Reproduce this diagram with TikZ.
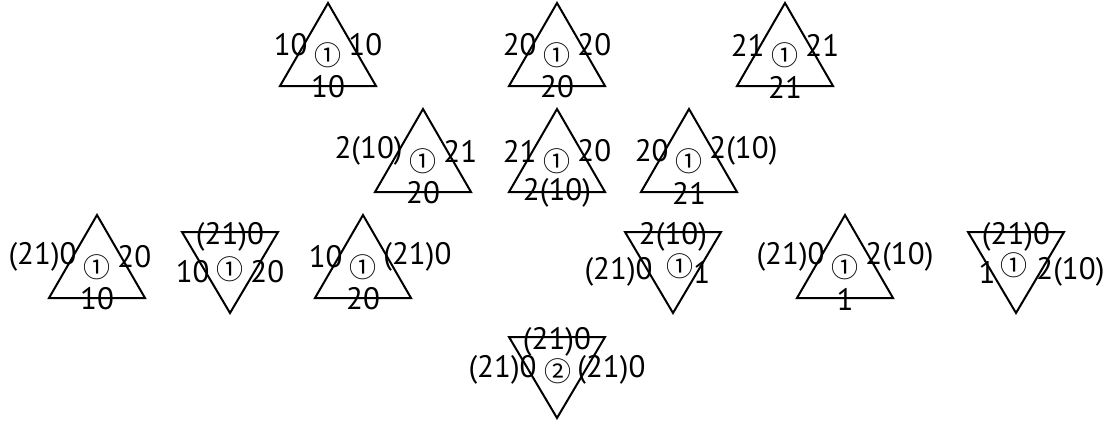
\documentclass[tikz,border=0pt]{standalone}
\usepackage{fontspec}
\setmainfont{PT Sans}
\newfontfamily\circfont{Noto Sans CJK SC}
\tikzset{
  tri/.style={draw, line width=1pt, line join=miter},
  lbl/.style={inner sep=0pt, font=\fontsize{15.5}{15.5}\selectfont},
  circ/.style={inner sep=0pt, font=\circfont\fontsize{13.5}{13.5}\selectfont}
}
% up triangle: name, apex x, apex y, left, right, bottom, circled
\newcommand\uptri[7]{%
  \draw[tri] (#2,#3) -- ({#2-48},{#3+83}) -- ({#2+48},{#3+83}) -- cycle;
  \node[lbl,anchor=east] (#1-l) at ({#2-20},{#3+42}) {#4};
  \node[lbl,anchor=west] (#1-r) at ({#2+20},{#3+42}) {#5};
  \node[lbl] (#1-b) at (#2,{#3+84}) {#6};
  \node[circ] (#1-c) at (#2,{#3+52}) {#7};
}
% down triangle: name, top-mid x, top y, top, left, right, circled, circ dx, circ dy
\newcommand\dntri[9]{%
  \draw[tri] ({#2-48},#3) -- ({#2+48},#3) -- (#2,{#3+81}) -- cycle;
  \node[lbl] (#1-t) at (#2,{#3+5}) {#4};
  \node[lbl,anchor=east] (#1-l) at ({#2-20},{#3+40-\dnshift}) {#5};
  \node[lbl,anchor=west] (#1-r) at ({#2+20},{#3+40-\dnshift}) {#6};
  \node[circ] (#1-c) at ({#2+#8},{#3+#9}) {#7};
}
\newcommand\dnshift{0}
\begin{document}
\begin{tikzpicture}[x=0.5pt,y=-0.5pt]
\useasboundingbox (0,0) rectangle (1112,423);
\uptri{t1}{328}{3}{10}{10}{10}{①}
\uptri{t2}{557}{3}{20}{20}{20}{①}
\uptri{t3}{785}{3}{21}{21}{21}{①}
\uptri{t4}{423}{109}{2(10)}{21}{20}{①}
\uptri{t5}{557}{109}{21}{20}{2(10)}{①}
\uptri{t6}{689}{109}{20}{2(10)}{21}{①}
\uptri{t7}{97}{215}{(21)0}{20}{10}{①}
\dntri{t8}{230}{232}{(21)0}{10}{20}{①}{0}{37}
\uptri{t9}{363}{215}{10}{(21)0}{20}{①}
\dntri{t10}{673}{232}{2(10)}{(21)0}{1}{①}{7}{34}
\uptri{t11}{845}{215}{(21)0}{2(10)}{1}{①}
\dntri{t12}{1016}{232}{(21)0}{1}{2(10)}{①}{-2}{33}
\renewcommand\dnshift{7}
\dntri{t13}{557}{337}{(21)0}{(21)0}{(21)0}{②}{1}{34}
\end{tikzpicture}
\end{document}
